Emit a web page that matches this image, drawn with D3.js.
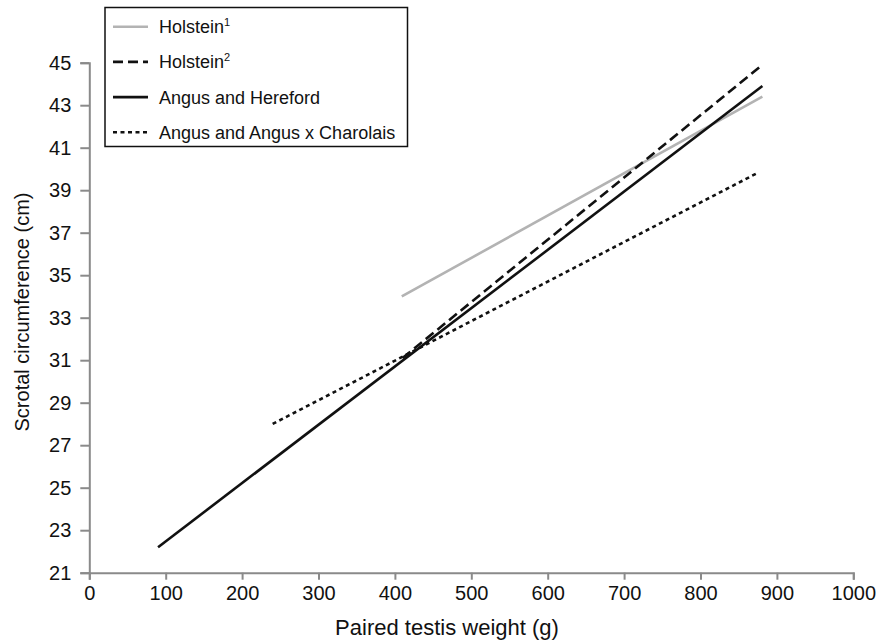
<!DOCTYPE html>
<html>
<head>
<meta charset="utf-8">
<script src="https://cdn.jsdelivr.net/npm/d3@7"></script>
<style>
  body { margin: 0; background: #fff; }
  text { font-family: "Liberation Sans", Arial, sans-serif; fill: #111; }
</style>
</head>
<body>
<svg id="chart" width="879" height="642"></svg>
<script>
// regression lines, one entry per study
var seriesNames = ["Holstein", "Holstein", "Angus and Hereford", "Angus and Angus x Charolais"];
var seriesSup = ["1", "2", "", ""];
var weightStart = [409, 410, 90, 240];
var weightEnd = [881, 881, 881, 874];
var scrotalStart = [34.0, 31.1, 22.2, 28.0];
var scrotalEnd = [43.4, 44.9, 43.9, 39.8];

var xTicks = [0, 100, 200, 300, 400, 500, 600, 700, 800, 900, 1000];
var yTicks = [21, 23, 25, 27, 29, 31, 33, 35, 37, 39, 41, 43, 45];

var LINE_COLORS = ["#b3b3b3", "#111", "#111", "#111"];
var LINE_DASH = [null, "10,5", null, "4,3.5"];
var LINE_WIDTH = 2.6;

var svg = d3.select("#chart");

var x = d3.scaleLinear().domain([0, 1000]).range([89.3, 853.3]);
var y = d3.scaleLinear().domain([21, 45]).range([572.7, 62.7]);

var xAxis = svg.append("g")
  .attr("transform", "translate(0," + y(21) + ")")
  .call(d3.axisBottom(x).tickValues(xTicks).tickFormat(d3.format("d"))
    .tickSize(7).tickSizeOuter(7).tickPadding(6));

var yAxis = svg.append("g")
  .attr("transform", "translate(" + x(0) + ",0)")
  .call(d3.axisLeft(y).tickValues(yTicks).tickSize(9).tickSizeOuter(9).tickPadding(9));

[xAxis, yAxis].forEach(function(ax) {
  ax.selectAll("path, line").attr("stroke", "#8a8a8a").attr("stroke-width", 2);
  ax.selectAll("text").attr("font-size", 20).attr("fill", "#111")
    .style("font-family", "Liberation Sans, Arial, sans-serif");
});

// axis titles
svg.append("text")
  .attr("x", 447).attr("y", 635)
  .attr("text-anchor", "middle")
  .attr("font-size", 22)
  .text("Paired testis weight (g)");

svg.append("text")
  .attr("transform", "translate(29,312) rotate(-90)")
  .attr("text-anchor", "middle")
  .attr("font-size", 20)
  .text("Scrotal circumference (cm)");

// the lines
var idx = d3.range(seriesNames.length);
var line = d3.line().x(function(d) { return x(d[0]); }).y(function(d) { return y(d[1]); });

svg.append("g").selectAll("path")
  .data(idx)
  .join("path")
  .attr("d", function(i) {
    return line([[weightStart[i], scrotalStart[i]], [weightEnd[i], scrotalEnd[i]]]);
  })
  .attr("fill", "none")
  .attr("stroke", function(i) { return LINE_COLORS[i]; })
  .attr("stroke-width", LINE_WIDTH)
  .attr("stroke-dasharray", function(i) { return LINE_DASH[i]; });

// legend
var legend = svg.append("g");
legend.append("rect")
  .attr("x", 105).attr("y", 7.5)
  .attr("width", 302.5).attr("height", 139)
  .attr("fill", "#fff").attr("stroke", "#111").attr("stroke-width", 1.5);

var rows = legend.selectAll("g.row")
  .data(idx)
  .join("g")
  .attr("class", "row")
  .attr("transform", function(i) { return "translate(0," + (26.7 + i * 35.2) + ")"; });

rows.append("line")
  .attr("x1", 113).attr("x2", 148)
  .attr("stroke", function(i) { return LINE_COLORS[i]; })
  .attr("stroke-width", LINE_WIDTH)
  .attr("stroke-dasharray", function(i) { return LINE_DASH[i]; });

var labels = rows.append("text")
  .attr("x", 159).attr("y", 6.5)
  .attr("font-size", 18);
labels.append("tspan").text(function(i) { return seriesNames[i]; });
labels.append("tspan")
  .attr("font-size", 11)
  .attr("dy", -7)
  .text(function(i) { return seriesSup[i]; });
</script>
</body>
</html>
